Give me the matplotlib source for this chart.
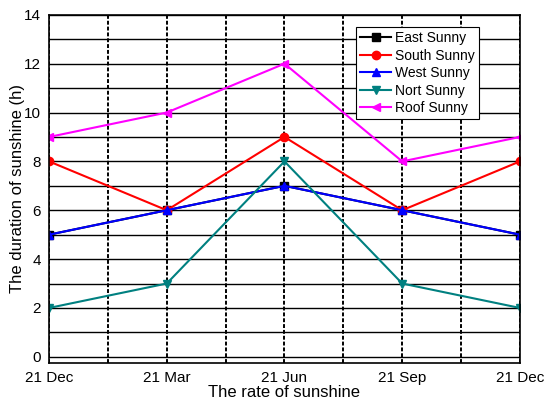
import numpy as np
import matplotlib
matplotlib.use('Agg')
import matplotlib.pyplot as plt

plt.rcParams['font.family'] = ['Liberation Sans', 'DejaVu Sans']

dates = ['21 Dec', '21 Mar', '21 Jun', '21 Sep', '21 Dec']
east = [5, 6, 7, 6, 5]
south = [8, 6, 9, 6, 8]
west = [5, 6, 7, 6, 5]
nort = [2, 3, 8, 3, 2]
roof = [9, 10, 12, 8, 9]

series = [
    ('East Sunny', east, 'black', 's'),
    ('South Sunny', south, 'red', 'o'),
    ('West Sunny', west, 'blue', '^'),
    ('Nort Sunny', nort, '#008080', 'v'),
    ('Roof Sunny', roof, '#ff00ff', '<'),
]

fig = plt.figure(figsize=(5.45, 4.01), dpi=100)
ax = fig.add_axes([0.09, 0.095, 0.864, 0.868])

x = np.arange(len(dates))
for name, vals, col, mk in series:
    ax.plot(x, vals, color=col, marker=mk, markersize=6, lw=1.5,
            label=name, clip_on=True)

ax.set_xlim(0, 4)
ax.set_ylim(-0.25, 14)
ax.set_xticks(x)
ax.set_xticklabels(dates)
ax.set_yticks(np.arange(0, 15, 2))
ax.set_yticks(np.arange(0, 15, 1), minor=True)
ax.set_xticks(np.arange(0.5, 4, 1), minor=True)
ax.tick_params(axis='both', which='both', length=0, labelsize=11, pad=6)

# solid horizontal grid every hour, dashed vertical grid every half step
ax.grid(True, axis='y', which='both', color='black', lw=1.0)
ax.grid(True, axis='x', which='both', color='black', lw=1.4,
        linestyle=(0, (2, 1)))
ax.set_axisbelow(True)
for s in ax.spines.values():
    s.set_linewidth(1.2)

ax.set_xlabel('The rate of sunshine', fontsize=12, labelpad=0)
ax.set_ylabel('The duration of sunshine (h)', fontsize=12, labelpad=-1)

leg = ax.legend(loc='upper left', bbox_to_anchor=(0.652, 0.965),
                fontsize=10, frameon=True, fancybox=False,
                edgecolor='black', framealpha=1, borderpad=0.3,
                labelspacing=0.25, handlelength=2.2, handletextpad=0.3,
                borderaxespad=0)
leg.get_frame().set_linewidth(0.8)

fig.savefig('out.png', dpi=100)
